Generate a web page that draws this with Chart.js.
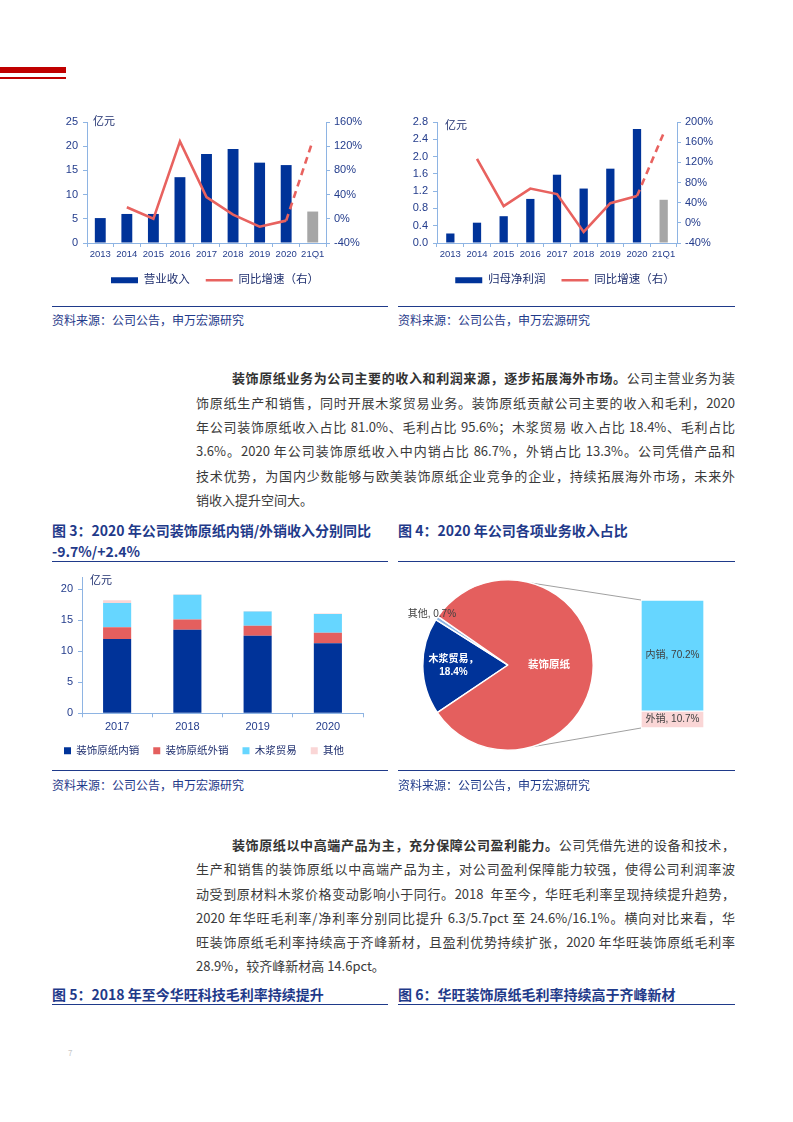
<!DOCTYPE html>
<html><head><meta charset="utf-8">
<script src="https://cdn.jsdelivr.net/npm/chart.js@4.4.0/dist/chart.umd.min.js"></script>
<style>
html,body{margin:0;padding:0;background:#fff;}
#page{position:relative;width:793px;height:1122px;overflow:hidden;font-family:"Noto Sans CJK SC","Liberation Sans",sans-serif;}
.red{position:absolute;left:0;width:66px;background:#C00000;}
.sep{position:absolute;height:0;border-top:1.5px solid #1F3A8A;}
.src{position:absolute;font-size:12px;color:#1F3A8A;line-height:14px;white-space:nowrap;}
.ttl{position:absolute;font-size:14px;font-weight:bold;color:#1F3A8A;line-height:18px;white-space:nowrap;}
.ln{position:absolute;left:196px;width:539px;font-size:13px;color:#3a3a3a;line-height:18px;text-align:justify;text-align-last:justify;}
.ln.first{left:232px;width:503px;}
.ln.last{text-align-last:left;}
.ln b{color:#333;}
canvas{position:absolute;}
</style></head>
<body><div id="page">
<div class="red" style="top:67px;height:6px"></div>
<div class="red" style="top:77px;height:2px"></div>

<canvas id="c1" width="340" height="188" style="left:45px;top:108px"></canvas>
<canvas id="c2" width="340" height="188" style="left:395px;top:108px"></canvas>

<div class="sep" style="left:52px;width:336px;top:306px"></div>
<div class="sep" style="left:398px;width:337px;top:306px"></div>
<div class="src" style="left:52px;top:313px">资料来源：公司公告，申万宏源研究</div>
<div class="src" style="left:398px;top:313px">资料来源：公司公告，申万宏源研究</div>

<div class="ln first" style="top:369px"><b>装饰原纸业务为公司主要的收入和利润来源，逐步拓展海外市场。</b>公司主营业务为装</div>
<div class="ln" style="top:394px">饰原纸生产和销售，同时开展木浆贸易业务。装饰原纸贡献公司主要的收入和毛利，2020</div>
<div class="ln" style="top:418px">年公司装饰原纸收入占比 81.0%、毛利占比 95.6%；木浆贸易 收入占比 18.4%、毛利占比</div>
<div class="ln" style="top:442px">3.6%。2020 年公司装饰原纸收入中内销占比 86.7%，外销占比 13.3%。公司凭借产品和</div>
<div class="ln" style="top:467px">技术优势，为国内少数能够与欧美装饰原纸企业竞争的企业，持续拓展海外市场，未来外</div>
<div class="ln last" style="top:491px">销收入提升空间大。</div>

<div class="ttl" style="left:52px;top:521px">图 3：2020 年公司装饰原纸内销/外销收入分别同比</div>
<div class="ttl" style="left:52px;top:542px">-9.7%/+2.4%</div>
<div class="ttl" style="left:398px;top:521px">图 4：2020 年公司各项业务收入占比</div>
<div class="sep" style="left:52px;width:336px;top:561px"></div>
<div class="sep" style="left:398px;width:337px;top:561px"></div>

<canvas id="c3" width="330" height="201" style="left:45px;top:565px"></canvas>
<canvas id="c4b" width="340" height="200" style="left:395px;top:565px"></canvas>
<canvas id="c4" width="340" height="200" style="left:395px;top:565px"></canvas>

<div class="sep" style="left:52px;width:336px;top:770px"></div>
<div class="sep" style="left:398px;width:337px;top:770px"></div>
<div class="src" style="left:52px;top:778px">资料来源：公司公告，申万宏源研究</div>
<div class="src" style="left:398px;top:778px">资料来源：公司公告，申万宏源研究</div>

<div class="ln first" style="top:836px"><b>装饰原纸以中高端产品为主，充分保障公司盈利能力。</b>公司凭借先进的设备和技术，</div>
<div class="ln" style="top:860px">生产和销售的装饰原纸以中高端产品为主，对公司盈利保障能力较强，使得公司利润率波</div>
<div class="ln" style="top:885px">动受到原材料木浆价格变动影响小于同行。2018&nbsp; 年至今，华旺毛利率呈现持续提升趋势，</div>
<div class="ln" style="top:909px">2020 年华旺毛利率/净利率分别同比提升 6.3/5.7pct 至 24.6%/16.1%。横向对比来看，华</div>
<div class="ln" style="top:933px">旺装饰原纸毛利率持续高于齐峰新材，且盈利优势持续扩张，2020 年华旺装饰原纸毛利率</div>
<div class="ln last" style="top:957px">28.9%，较齐峰新材高 14.6pct。</div>

<div class="ttl" style="left:52px;top:985px">图 5：2018 年至今华旺科技毛利率持续提升</div>
<div class="ttl" style="left:398px;top:985px">图 6：华旺装饰原纸毛利率持续高于齐峰新材</div>
<div class="sep" style="left:52px;width:336px;top:1004px"></div>
<div class="sep" style="left:398px;width:337px;top:1004px"></div>
<div style="position:absolute;left:68px;top:1047px;font-size:8px;color:#c8c8c8">7</div>
</div>

<script>
// ---------- data ----------
const years = ['2013','2014','2015','2016','2017','2018','2019','2020','21Q1'];
const revenue = [5.15, 6.0, 6.0, 13.6, 18.4, 19.4, 16.6, 16.1, 6.5];
const revenueYoY = [null, 19, 0, 128, 36, 7, -13, -3, 129];
const profit = [0.22, 0.47, 0.62, 1.02, 1.58, 1.26, 1.72, 2.64, 1.0];
const profitYoY = [null, 127, 33, 68, 57, -18, 39, 53, 178];
const revenueTicks = [0, 5, 10, 15, 20, 25];
const revenueYoYTicks = [-40, 0, 40, 80, 120, 160];
const profitTicks = [0, 0.4, 0.8, 1.2, 1.6, 2.0, 2.4, 2.8];
const profitYoYTicks = [-40, 0, 40, 80, 120, 160, 200];

const stackYears = ['2017','2018','2019','2020'];
const domesticPaper = [12.0, 13.5, 12.5, 11.3];
const exportPaper = [1.9, 1.65, 1.65, 1.72];
const pulpTrade = [3.9, 4.0, 2.3, 3.0];
const otherBiz = [0.45, 0.08, 0.06, 0.1];
const stackTicks = [0, 5, 10, 15, 20];
const stackMax = 22;

const pieLabels = ['木浆贸易', '其他', '装饰原纸'];
const pieValues = [18.4, 0.7, 81.0];
const splitLabels = ['外销', '内销'];
const splitValues = [10.7, 70.2];

// ---------- style ----------
const FONT = '"Liberation Sans", Arial, "Noto Sans CJK SC", sans-serif';
const BLUE = '#003399', GRAY = '#A6A6A6', RED = '#E8625F', RED2 = '#E45F5E';
const CYAN = '#66D6FF', PINK = '#FAD6D6', AXIS = '#8EB4E3', TXT = '#233C8C';
Chart.defaults.font.family = FONT;
Chart.defaults.color = TXT;

const unitLabel = {
  id: 'unitLabel',
  afterDraw(chart, args, opts) {
    const {ctx, chartArea} = chart;
    ctx.save();
    ctx.font = `${opts.size}px ${FONT}`;
    ctx.fillStyle = opts.color;
    ctx.textBaseline = 'middle';
    ctx.textAlign = 'left';
    ctx.fillText(opts.text, chartArea.left + opts.dx, chartArea.top + opts.dy);
    ctx.restore();
  }
};

function axisGrid() {
  return {display: true, drawOnChartArea: false, drawTicks: true, tickLength: 4, color: AXIS, lineWidth: 1};
}

function comboChart(id, bars, line, names, leftTicks, rightTicks, digits, barPct, yW, y1W, unitDx, unitDy) {
  return new Chart(document.getElementById(id), {
    type: 'bar',
    data: {
      labels: years,
      datasets: [
        {type: 'bar', label: names[0], data: bars, yAxisID: 'y', order: 1,
         backgroundColor: years.map(y => y.includes('Q') ? GRAY : BLUE),
         barPercentage: barPct, categoryPercentage: 1, pointStyle: 'rect', borderWidth: 0},
        {type: 'line', label: names[1], data: line, yAxisID: 'y1', order: 0,
         borderColor: RED, backgroundColor: RED, borderWidth: 2.6, pointRadius: 0,
         pointBorderWidth: 2.6, pointBorderColor: RED, pointStyle: 'line', tension: 0,
         segment: {borderDash: c => years[c.p1DataIndex].includes('Q') ? [7, 5] : undefined}}
      ]
    },
    options: {
      responsive: false, animation: false,
      layout: {padding: {top: 14, left: 0, right: 0, bottom: 0}},
      scales: {
        x: {grid: axisGrid(), border: {color: AXIS},
            ticks: {color: TXT, font: {size: 9.5}, padding: 2, maxRotation: 0, autoSkip: false},
            afterFit(s) { s.height = 15.5; }},
        y: {position: 'left', min: leftTicks[0], max: leftTicks[leftTicks.length - 1],
            afterBuildTicks(s) { s.ticks = leftTicks.map(v => ({value: v})); },
            ticks: {color: TXT, font: {size: 11}, padding: 5, callback: v => Number(v).toFixed(digits)},
            grid: axisGrid(), border: {color: AXIS},
            afterFit(s) { s.width = yW; }},
        y1: {position: 'right', min: rightTicks[0], max: rightTicks[rightTicks.length - 1],
            afterBuildTicks(s) { s.ticks = rightTicks.map(v => ({value: v})); },
            ticks: {color: TXT, font: {size: 11}, padding: 4, callback: v => v + '%'},
            grid: axisGrid(), border: {color: AXIS},
            afterFit(s) { s.width = y1W; }}
      },
      plugins: {
        legend: {position: 'bottom',
          labels: {usePointStyle: true, pointStyleWidth: 27, boxHeight: 6, color: '#1F2F6F',
                   font: {size: 11.5}, padding: 16, sort: (a, b) => a.datasetIndex - b.datasetIndex}},
        tooltip: {enabled: false},
        unitLabel: {text: '亿元', size: 11, color: '#1F2F6F', dx: unitDx, dy: unitDy}
      }
    },
    plugins: [unitLabel]
  });
}

comboChart('c1', revenue, revenueYoY, ['营业收入', '同比增速（右）'], revenueTicks, revenueYoYTicks, 0, 0.41, 42, 59, 6, 0);
comboChart('c2', profit, profitYoY, ['归母净利润', '同比增速（右）'], profitTicks, profitYoYTicks, 1, 0.31, 42, 58, 8, 4);

// ---------- stacked ----------
new Chart(document.getElementById('c3'), {
  type: 'bar',
  data: {
    labels: stackYears,
    datasets: [
      {label: '装饰原纸内销', data: domesticPaper, backgroundColor: BLUE},
      {label: '装饰原纸外销', data: exportPaper, backgroundColor: RED2},
      {label: '木浆贸易', data: pulpTrade, backgroundColor: CYAN},
      {label: '其他', data: otherBiz, backgroundColor: PINK}
    ]
  },
  options: {
    responsive: false, animation: false,
    datasets: {bar: {barPercentage: 0.4, categoryPercentage: 1}},
    layout: {padding: {top: 12, right: 12, left: 0, bottom: 0}},
    scales: {
      x: {stacked: true, grid: axisGrid(), border: {color: AXIS},
          ticks: {color: TXT, font: {size: 11}, padding: 3},
          afterFit(s) { s.height = 18.2; }},
      y: {stacked: true, min: 0, max: stackMax,
          afterBuildTicks(s) { s.ticks = stackTicks.map(v => ({value: v})); },
          ticks: {color: TXT, font: {size: 11}, padding: 5},
          grid: axisGrid(), border: {color: AXIS},
          afterFit(s) { s.width = 37; }}
    },
    plugins: {
      legend: {position: 'bottom',
        labels: {boxWidth: 7, boxHeight: 7, color: '#1F2F6F', font: {size: 10.5}, padding: 14}},
      tooltip: {enabled: false},
      unitLabel: {text: '亿元', size: 11, color: '#1F2F6F', dx: 8, dy: 4}
    }
  },
  plugins: [unitLabel]
});

// ---------- pie of bar ----------
const pieLabelPlugin = {
  id: 'pieLabelPlugin',
  afterDatasetsDraw(chart, args, opts) {
    const {ctx} = chart;
    const meta = chart.getDatasetMeta(0);
    meta.data.forEach((arc, i) => {
      const st = opts.styles[i];
      const mid = (arc.startAngle + arc.endAngle) / 2;
      const x = arc.x + Math.cos(mid) * arc.outerRadius * st.r;
      const y = arc.y + Math.sin(mid) * arc.outerRadius * st.r;
      const lines = opts.text(i);
      ctx.save();
      ctx.font = `${st.bold ? 'bold ' : ''}${st.size}px ${FONT}`;
      ctx.fillStyle = st.color;
      ctx.textAlign = 'center';
      ctx.textBaseline = 'middle';
      const lh = st.size * 1.3;
      lines.forEach((t, k) => ctx.fillText(t, x, y + (k - (lines.length - 1) / 2) * lh));
      ctx.restore();
    });
  }
};

const pieChart = new Chart(document.getElementById('c4'), {
  type: 'pie',
  data: {labels: pieLabels, datasets: [{data: pieValues, backgroundColor: [BLUE, '#8DB4E2', RED2],
         borderColor: '#ffffff', borderWidth: 1.5}]},
  options: {
    responsive: false, animation: false, rotation: 236,
    layout: {padding: {left: 27, right: 141, top: 14, bottom: 14}},
    plugins: {
      legend: {display: false}, tooltip: {enabled: false},
      pieLabelPlugin: {
        styles: [
          {r: 0.64, color: '#ffffff', bold: true, size: 10},
          {r: 1.07, color: '#404040', bold: false, size: 10},
          {r: 0.48, color: '#ffffff', bold: true, size: 10.5}
        ],
        text: i => {
          if (i === 0) return [pieLabels[0] + '，', pieValues[0].toFixed(1) + '%'];
          if (i === 1) return [pieLabels[1] + ', ' + pieValues[1].toFixed(1) + '%'];
          return [pieLabels[2]];
        }
      }
    }
  },
  plugins: [pieLabelPlugin]
});

const splitPlugin = {
  id: 'splitPlugin',
  afterDraw(chart, args, opts) {
    const {ctx} = chart;
    const arc = pieChart.getDatasetMeta(0).data[0];
    const topBar = chart.getDatasetMeta(1).data[0];
    const botBar = chart.getDatasetMeta(0).data[0];
    const left = topBar.x - topBar.width / 2;
    const a = opts.angle * Math.PI / 180;
    ctx.save();
    ctx.strokeStyle = '#A0A0A0';
    ctx.lineWidth = 1;
    ctx.beginPath();
    ctx.moveTo(arc.x + arc.outerRadius * Math.cos(-a), arc.y + arc.outerRadius * Math.sin(-a));
    ctx.lineTo(left, topBar.y);
    ctx.moveTo(arc.x + arc.outerRadius * Math.cos(a), arc.y + arc.outerRadius * Math.sin(a));
    ctx.lineTo(left, botBar.base);
    ctx.stroke();
    ctx.font = `10px ${FONT}`;
    ctx.fillStyle = '#404040';
    ctx.textAlign = 'center';
    ctx.textBaseline = 'middle';
    [botBar, topBar].forEach((b, i) => {
      ctx.fillText(splitLabels[i] + ', ' + splitValues[i].toFixed(1) + '%', b.x, (b.y + b.base) / 2);
    });
    ctx.restore();
  }
};

new Chart(document.getElementById('c4b'), {
  type: 'bar',
  data: {labels: ['装饰原纸'], datasets: [
    {label: splitLabels[0], data: [splitValues[0]], backgroundColor: PINK},
    {label: splitLabels[1], data: [splitValues[1]], backgroundColor: CYAN}
  ]},
  options: {
    responsive: false, animation: false,
    datasets: {bar: {barPercentage: 1, categoryPercentage: 1, borderColor: '#ffffff', borderWidth: 1, borderSkipped: false}},
    layout: {padding: {left: 246, right: 31, top: 35, bottom: 37}},
    scales: {
      x: {display: false, stacked: true},
      y: {display: false, stacked: true, min: 0, max: splitValues.reduce((s, v) => s + v, 0)}
    },
    plugins: {legend: {display: false}, tooltip: {enabled: false}, splitPlugin: {angle: 74}}
  },
  plugins: [splitPlugin]
});
</script>
</body></html>
